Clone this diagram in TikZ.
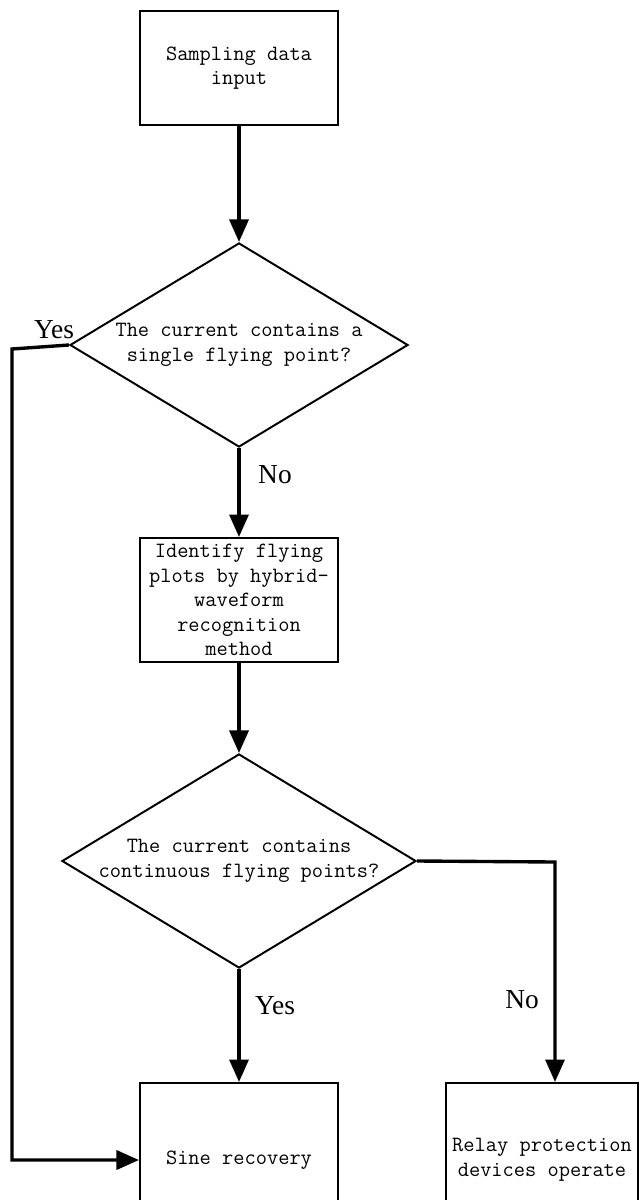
\documentclass[tikz,border=0pt]{standalone}
\usepackage{fontspec}
\setmainfont{Liberation Serif}
\usetikzlibrary{positioning,shapes.geometric,arrows.meta}

\tikzset{
  procbox/.style={draw, line width=1.4pt, rectangle, minimum width=4.95cm, inner sep=0pt,
    align=center, font=\ttfamily\fontsize{15.5}{17.5}\selectfont},
  decision/.style={draw, line width=1.4pt, diamond, inner sep=0pt, aspect=1.656,
    align=center, font=\ttfamily\fontsize{15.5}{17.5}\selectfont},
  flowarrow/.style={line width=2.4pt, -{Triangle[length=16pt,width=13.5pt]}},
  branchlabel/.style={font=\fontsize{19.5}{21}\selectfont}
}

\begin{document}
\begin{tikzpicture}[x=0.025cm, y=-0.025cm]
  \useasboundingbox (0,0) rectangle (641,1200);

  % boxes and decisions
  \node[procbox, minimum height=2.83cm] (input) at (239,68) {Sampling data\\input};
  \node[decision, minimum width=8.45cm, minimum height=5.1cm] (single) at (239,345)
    {The current contains a\\single flying point?};
  \node[procbox, minimum height=3.1cm] (identify) at (239,600)
    {Identify flying\\plots by hybrid-\\waveform\\recognition\\method};
  \node[decision, inner xsep=-4pt, minimum width=8.85cm, minimum height=5.35cm] (cont) at (239,861)
    {The current contains\\continuous flying points?};
  \node[procbox, minimum height=3.85cm] (sine) at (239,1160) {Sine recovery};
  \node[procbox, minimum width=4.78cm, minimum height=3.85cm] (relay) at (542,1160)
    {Relay protection\\devices operate};

  \coordinate (yesturn) at (12,349);
  \coordinate (noturn) at (555,862);

  % connectors
  \draw[flowarrow] (input) -- (single);
  \draw[flowarrow] (single) -- (identify);
  \draw[flowarrow] (identify) -- (cont);
  \draw[flowarrow] (cont) -- (sine);
  \draw[flowarrow] (single.west) -- (yesturn) |- (sine.west);
  \draw[flowarrow] (cont.east) -- (noturn) -- (noturn |- relay.north);

  % branch labels
  \node[branchlabel] (yesleft) at (54,330) {Yes};
  \node[branchlabel] (nodown) at (275,475) {No};
  \node[branchlabel] (yesdown) at (275,1006) {Yes};
  \node[branchlabel] (noright) at (522,1000) {No};
\end{tikzpicture}
\end{document}
